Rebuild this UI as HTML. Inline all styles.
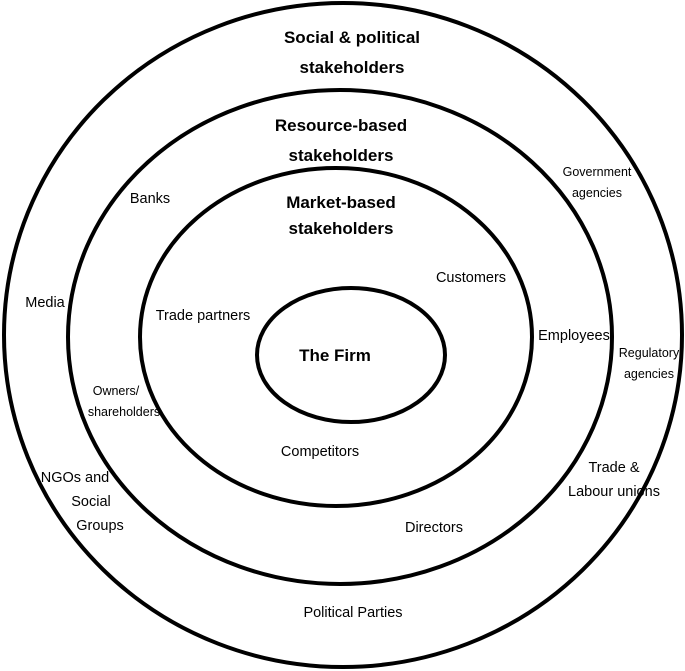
<!DOCTYPE html>
<html><head><meta charset="utf-8"><style>
html,body{margin:0;padding:0;background:#fff;}
svg{display:block;}
text{font-family:"Liberation Sans",sans-serif;fill:#000;}
.b{font-weight:bold;font-size:17px;}
.n{font-size:14.5px;}
.s{font-size:12.5px;}
</style></head><body>
<svg width="685" height="671" viewBox="0 0 685 671" xmlns="http://www.w3.org/2000/svg">
<g fill="none" stroke="#000" stroke-width="4">
<ellipse cx="343" cy="335" rx="339" ry="332"/>
<ellipse cx="340" cy="337" rx="272" ry="247"/>
<ellipse cx="336" cy="337" rx="196" ry="169"/>
<ellipse cx="351" cy="355" rx="94" ry="67"/>
</g>
<g text-anchor="middle">
<text class="b" x="352" y="43">Social &amp; political</text>
<text class="b" x="352" y="73">stakeholders</text>
<text class="b" x="341" y="131">Resource-based</text>
<text class="b" x="341" y="161">stakeholders</text>
<text class="b" x="341" y="208">Market-based</text>
<text class="b" x="341" y="234">stakeholders</text>
<text class="b" x="335" y="361">The Firm</text>
<text class="n" x="150" y="203">Banks</text>
<text class="n" x="45" y="307">Media</text>
<text class="n" x="471" y="282">Customers</text>
<text class="n" x="203" y="320">Trade partners</text>
<text class="n" x="574" y="340">Employees</text>
<text class="n" x="320" y="456">Competitors</text>
<text class="n" x="434" y="532">Directors</text>
<text class="n" x="353" y="617">Political Parties</text>
<text class="n" x="614" y="472">Trade &amp;</text>
<text class="n" x="614" y="496">Labour unions</text>
<text class="n" x="75" y="482">NGOs and</text>
<text class="n" x="91" y="506">Social</text>
<text class="n" x="100" y="530">Groups</text>
<text class="s" x="597" y="176">Government</text>
<text class="s" x="597" y="197">agencies</text>
<text class="s" x="649" y="357">Regulatory</text>
<text class="s" x="649" y="378">agencies</text>
<text class="s" x="116" y="395">Owners/</text>
<text class="s" x="124" y="416">shareholders</text>
</g>
</svg>
</body></html>
